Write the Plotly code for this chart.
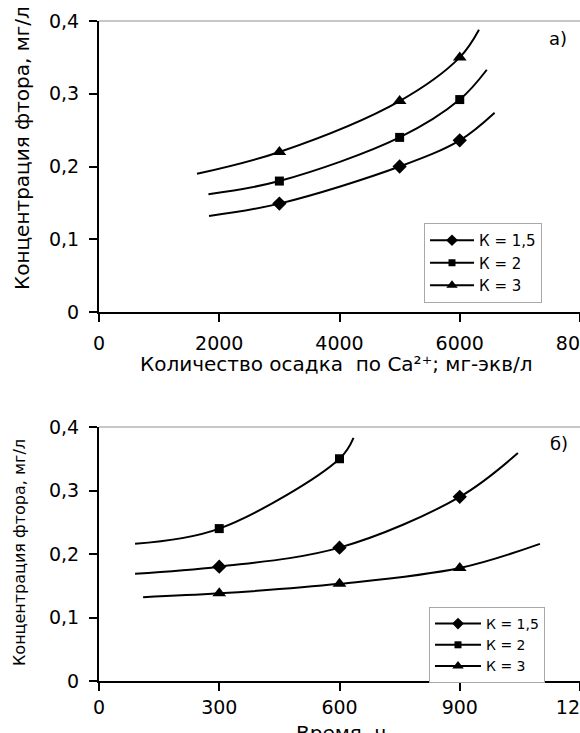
import plotly.graph_objects as go

# ---- panel а): fluoride vs. amount of Ca2+ precipitate ----
k_labels = ["К = 1,5", "К = 2", "К = 3"]
a_k15_x = [1830, 3000, 5000, 6000, 6580]
a_k15_y = [0.132, 0.149, 0.200, 0.236, 0.274]
a_k2_x = [1820, 3000, 5000, 6000, 6450]
a_k2_y = [0.162, 0.180, 0.240, 0.292, 0.333]
a_k3_x = [1630, 3000, 5000, 6000, 6320]
a_k3_y = [0.190, 0.220, 0.290, 0.350, 0.388]
# measured points (shown with markers)
a_pts_x = [3000, 5000, 6000]
a_k15_pts = [0.149, 0.200, 0.236]
a_k2_pts = [0.180, 0.240, 0.292]
a_k3_pts = [0.220, 0.290, 0.350]

a_xticks = [0, 2000, 4000, 6000, 8000]
a_xticktext = ["0", "2000", "4000", "6000", "8000"]

# ---- panel б): fluoride vs. time ----
b_k15_x = [90, 300, 600, 900, 1045]
b_k15_y = [0.169, 0.180, 0.210, 0.290, 0.359]
b_k2_x = [90, 300, 600, 635]
b_k2_y = [0.216, 0.240, 0.350, 0.383]
b_k3_x = [110, 300, 600, 900, 1100]
b_k3_y = [0.132, 0.138, 0.153, 0.178, 0.216]
b_k15_pts_x = [300, 600, 900]
b_k15_pts = [0.180, 0.210, 0.290]
b_k2_pts_x = [300, 600]
b_k2_pts = [0.240, 0.350]
b_k3_pts_x = [300, 600, 900]
b_k3_pts = [0.138, 0.153, 0.178]

b_xticks = [0, 300, 600, 900, 1200]
b_xticktext = ["0", "300", "600", "900", "1200"]

yticks = [0, 0.1, 0.2, 0.3, 0.4]
yticktext = ["0", "0,1", "0,2", "0,3", "0,4"]

FONT = "DejaVu Sans"
W, H = 580, 733
ML, MR, MT, MB = 99, 0, 21, 52
PH = H - MT - MB


def py(px):
    """pixel row -> paper y"""
    return (H - MB - px) / PH


def pxx(px):
    """pixel column -> paper x"""
    return (px - ML) / (W - ML - MR)


symbols = ["diamond", "square", "triangle-up"]
msizes = [11, 9, 12]

fig = go.Figure()

panel_a = [(a_k15_x, a_k15_y, a_pts_x, a_k15_pts),
           (a_k2_x, a_k2_y, a_pts_x, a_k2_pts),
           (a_k3_x, a_k3_y, a_pts_x, a_k3_pts)]
panel_b = [(b_k15_x, b_k15_y, b_k15_pts_x, b_k15_pts),
           (b_k2_x, b_k2_y, b_k2_pts_x, b_k2_pts),
           (b_k3_x, b_k3_y, b_k3_pts_x, b_k3_pts)]

for panel, xr, yr, leg in [(panel_a, "x", "y", "legend"), (panel_b, "x2", "y2", "legend2")]:
    for (cx, cy, mx, my), sym, ms, lab in zip(panel, symbols, msizes, k_labels):
        fig.add_trace(go.Scatter(x=cx, y=cy, mode="lines",
                                 line=dict(color="black", width=2, shape="spline", smoothing=1.0),
                                 xaxis=xr, yaxis=yr, showlegend=False, hoverinfo="skip"))
        fig.add_trace(go.Scatter(x=mx, y=my, mode="markers", marker=dict(symbol=sym, size=ms, color="black"),
                                 xaxis=xr, yaxis=yr, showlegend=False))
        # legend entry (line with marker)
        fig.add_trace(go.Scatter(x=[None], y=[None], mode="lines+markers", name=lab,
                                 line=dict(color="black", width=2),
                                 marker=dict(symbol=sym, size=ms - 2, color="black"),
                                 xaxis=xr, yaxis=yr, legend=leg))

axis_common = dict(showline=True, linecolor="black", linewidth=2, ticks="outside", ticklen=8, tickwidth=2,
                   tickcolor="black", showgrid=False, zeroline=False, mirror=False, automargin=False,
                   tickfont=dict(family=FONT, size=19, color="black"))

top_dom = [py(312), 1.0]
bot_dom = [0.0, py(427)]

fig.update_layout(
    width=W, height=H, margin=dict(l=ML, r=MR, t=MT, b=MB, autoexpand=False),
    paper_bgcolor="white", plot_bgcolor="white",
    font=dict(family=FONT, color="black"),
    xaxis=dict(axis_common, range=[0, 8000], tickvals=a_xticks, ticktext=a_xticktext, anchor="y",
               ticklabeloverflow="allow", ticklabelstandoff=5),
    yaxis=dict(axis_common, range=[0, 0.4], tickvals=yticks, ticktext=yticktext, domain=top_dom, anchor="x",
               ticklabelstandoff=6),
    xaxis2=dict(axis_common, range=[0, 1200], tickvals=b_xticks, ticktext=b_xticktext, anchor="y2",
                ticklabeloverflow="allow", ticklabelstandoff=0),
    yaxis2=dict(axis_common, range=[0, 0.4], tickvals=yticks, ticktext=yticktext, domain=bot_dom, anchor="x2",
                ticklabelstandoff=6),
    legend=dict(x=pxx(424), y=py(223), xanchor="left", yanchor="top", bgcolor="white", bordercolor="#a8a8a8",
                borderwidth=1, font=dict(family=FONT, size=15, color="black"), itemwidth=44),
    legend2=dict(x=pxx(429), y=py(607), xanchor="left", yanchor="top", bgcolor="white", bordercolor="#a8a8a8",
                 borderwidth=1, font=dict(family=FONT, size=14, color="black"), itemwidth=46),
    showlegend=True,
)

# thin grey frame line along the top of each plot area
for xr, yr in [("x domain", "y domain"), ("x2 domain", "y2 domain")]:
    fig.add_shape(type="line", xref=xr, yref=yr, x0=0, x1=1, y0=1, y1=1, line=dict(color="#b4b4b4", width=1.5))

# axis titles and panel letters
ann = [
    dict(text="Количество осадка  по Ca²⁺; мг-экв/л", x=pxx(336), y=py(364), size=20, angle=0, ya="middle"),
    dict(text="Время, ч", x=pxx(341), y=py(719), size=20, angle=0, ya="top"),
    dict(text="Концентрация фтора, мг/л", x=pxx(22), y=py(148), size=20, angle=-90, ya="middle"),
    dict(text="Концентрация фтора, мг/л", x=pxx(19), y=py(553), size=16, angle=-90, ya="middle"),
    dict(text="а)", x=pxx(558), y=py(38), size=18, angle=0, ya="middle"),
    dict(text="б)", x=pxx(559), y=py(443), size=18, angle=0, ya="middle"),
]
for a in ann:
    fig.add_annotation(text=a["text"], x=a["x"], y=a["y"], xref="paper", yref="paper", showarrow=False,
                       xanchor="center", yanchor=a["ya"], textangle=a["angle"],
                       font=dict(family=FONT, size=a["size"], color="black"))

fig.write_html("out.html")
